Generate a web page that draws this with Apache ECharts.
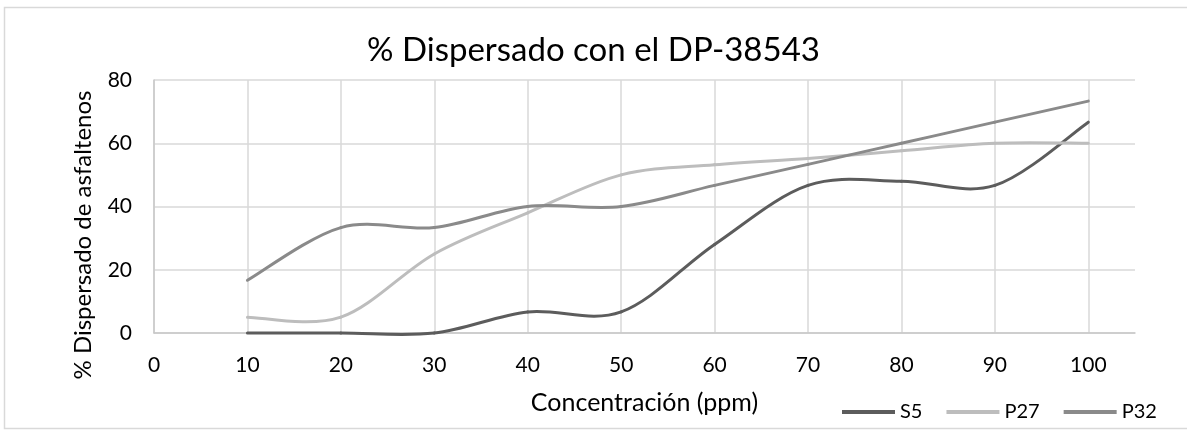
<!DOCTYPE html>
<html>
<head>
<meta charset="utf-8">
<script src="https://cdn.jsdelivr.net/npm/echarts@6/dist/echarts.min.js"></script>
<style>
  html, body { margin: 0; padding: 0; background: #fff; }
  #chart { width: 1187px; height: 431px; }
</style>
</head>
<body>
<div id="chart"></div>
<script>
// Concentration (ppm) on the x axis
const concentrations = [10, 20, 30, 40, 50, 60, 70, 80, 90, 100];
// % dispersed for each sample
const s5Values  = [0, 0, 0, 6.67, 6.67, 28, 46.67, 48, 46.67, 66.67];
const p27Values = [5, 5, 25, 38, 50, 53.2, 55.2, 57.6, 60, 60];
const p32Values = [16.67, 33.33, 33.33, 40, 40, 46.67, 53.33, 60, 66.67, 73.33];
const seriesNames = ['S5', 'P27', 'P32'];
const seriesColors = ['#5c5c5c', '#bdbdbd', '#8a8a8a'];
const yTicks = [0, 20, 40, 60, 80];

const FONT = 'Lato, "Open Sans", sans-serif';
const pairs = vals => concentrations.map((c, i) => [c, vals[i]]);

const chart = echarts.init(document.getElementById('chart'));

// vertical gridlines at 0..100; the 105 end tick gets none
const vLineColors = [];
for (let i = 0; i < 11; i++) vLineColors.push('#d9d9d9');
vLineColors.push('rgba(0,0,0,0)');

// Smoothed line: each segment is a cubic Bezier whose control points
// come from the neighbouring points (Catmull-Rom style, tension 1/6).
function curveSeries(name, vals, color) {
  const n = vals.length;
  const clampIdx = k => Math.max(0, Math.min(n - 1, k));
  return {
    name: name,
    type: 'custom',
    coordinateSystem: 'cartesian2d',
    data: pairs(vals),
    encode: { x: 0, y: 1 },
    itemStyle: { color: color },
    renderItem: function (params, api) {
      const i = params.dataIndex;
      if (i >= n - 1) return;
      const P = k => api.coord([concentrations[clampIdx(k)], vals[clampIdx(k)]]);
      const p0 = P(i - 1), p1 = P(i), p2 = P(i + 1), p3 = P(i + 2);
      const t = 1 / 6;
      return {
        type: 'bezierCurve',
        shape: {
          x1: p1[0], y1: p1[1],
          x2: p2[0], y2: p2[1],
          cpx1: p1[0] + (p2[0] - p0[0]) * t,
          cpy1: p1[1] + (p2[1] - p0[1]) * t,
          cpx2: p2[0] - (p3[0] - p1[0]) * t,
          cpy2: p2[1] - (p3[1] - p1[1]) * t
        },
        style: { stroke: color, lineWidth: 3, fill: null, lineCap: 'round' }
      };
    }
  };
}

chart.setOption({
  animation: false,
  backgroundColor: '#fff',
  title: {
    text: '% Dispersado con el DP-38543',
    left: 'center',
    top: 29,
    textStyle: { fontFamily: FONT, fontSize: 33, fontWeight: 'normal', color: '#000' }
  },
  graphic: [
    {
      type: 'rect',
      shape: { x: 4.5, y: 7.5, width: 1200, height: 421 },
      style: { fill: 'none', stroke: '#d9d9d9', lineWidth: 1.5 },
      silent: true
    },
    {
      // value-axis title
      type: 'text',
      x: 83,
      y: 235,
      rotation: Math.PI / 2,
      style: {
        text: '% Dispersado de asfaltenos',
        fontFamily: FONT,
        fontSize: 24,
        fill: '#000',
        align: 'center',
        verticalAlign: 'middle'
      },
      silent: true
    }
  ],
  legend: {
    left: 842,
    top: 402,
    padding: 0,
    itemWidth: 53,
    itemHeight: 4,
    itemGap: 24,
    textStyle: { fontFamily: FONT, fontSize: 20, color: '#000' },
    data: seriesNames.map(n => ({ name: n, icon: 'rect' }))
  },
  grid: { left: 154, right: 52, top: 80, bottom: 98, containLabel: false },
  xAxis: {
    type: 'value',
    min: 0,
    max: 105,
    interval: 10,
    name: 'Concentración (ppm)',
    nameLocation: 'middle',
    nameGap: 57,
    nameTextStyle: { fontFamily: FONT, fontSize: 25, color: '#000' },
    axisLine: { show: true, lineStyle: { color: '#c8c8c8', width: 1.5 } },
    axisTick: { show: false },
    axisLabel: {
      fontFamily: FONT, fontSize: 21, color: '#000', margin: 22,
      formatter: v => (v > 100 ? '' : String(v))
    },
    splitLine: { show: true, lineStyle: { color: vLineColors, width: 1.5 } }
  },
  yAxis: {
    type: 'value',
    min: yTicks[0],
    max: yTicks[yTicks.length - 1],
    interval: 20,
    axisLine: { show: true, lineStyle: { color: '#c8c8c8', width: 1.5 } },
    axisTick: { show: false },
    axisLabel: { fontFamily: FONT, fontSize: 21, color: '#000', margin: 22 },
    splitLine: { show: true, lineStyle: { color: '#d9d9d9', width: 1.5 } }
  },
  series: [
    curveSeries(seriesNames[0], s5Values, seriesColors[0]),
    curveSeries(seriesNames[1], p27Values, seriesColors[1]),
    curveSeries(seriesNames[2], p32Values, seriesColors[2])
  ]
});
</script>
</body>
</html>
